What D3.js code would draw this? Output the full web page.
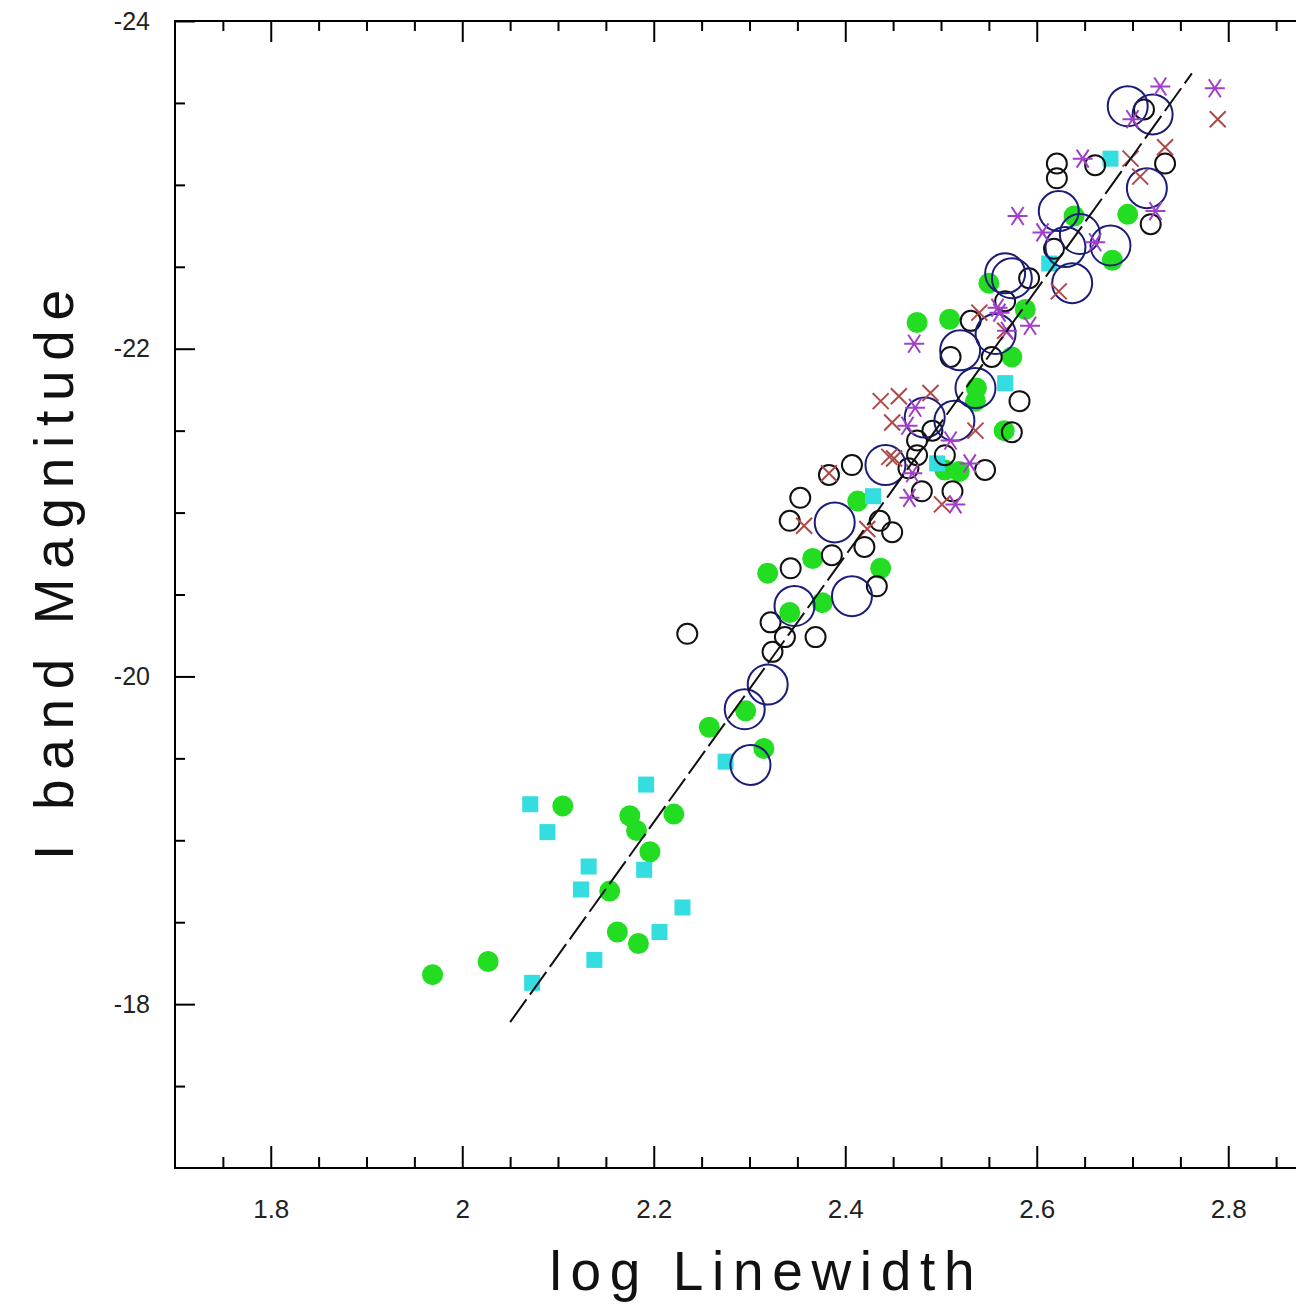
<!DOCTYPE html>
<html>
<head>
<meta charset="utf-8">
<script src="https://cdn.jsdelivr.net/npm/d3@7"></script>
<style>
  body { margin: 0; background: #fff; }
  svg { display: block; }
</style>
</head>
<body>
<div id="chart"></div>
<script>
// log linewidth vs I band magnitude, one array per symbol type
var greenDots = [
  [1.969, -18.18], [2.027, -18.26], [2.184, -18.37], [2.162, -18.44], [2.154, -18.69],
  [2.196, -18.93], [2.182, -19.06], [2.175, -19.15], [2.221, -19.16], [2.105, -19.21],
  [2.315, -19.56], [2.258, -19.69], [2.296, -19.79], [2.342, -20.39], [2.376, -20.45],
  [2.319, -20.63], [2.366, -20.72], [2.437, -20.66], [2.413, -21.07], [2.504, -21.26],
  [2.519, -21.25], [2.536, -21.68], [2.566, -21.50], [2.574, -21.95], [2.475, -22.16],
  [2.509, -22.18], [2.550, -22.40], [2.588, -22.24], [2.639, -22.81], [2.695, -22.82],
  [2.679, -22.54], [2.537, -21.76]
];
var cyanSquares = [
  [2.071, -19.22], [2.089, -19.05], [2.192, -19.34], [2.132, -18.84], [2.124, -18.70],
  [2.190, -18.82], [2.230, -18.59], [2.206, -18.44], [2.138, -18.27], [2.073, -18.13],
  [2.275, -19.48], [2.429, -21.10], [2.496, -21.30], [2.567, -21.79], [2.613, -22.52],
  [2.677, -23.16]
];
var smallCircles = [
  [2.235, -20.26], [2.369, -20.24], [2.337, -20.24], [2.324, -20.15], [2.322, -20.33],
  [2.353, -21.09], [2.342, -20.95], [2.343, -20.66], [2.386, -20.74], [2.420, -20.79],
  [2.436, -20.95], [2.449, -20.88], [2.433, -20.55], [2.383, -21.23], [2.407, -21.29],
  [2.475, -21.35], [2.510, -21.95], [2.582, -21.68], [2.574, -21.49], [2.546, -21.26],
  [2.475, -21.44], [2.531, -22.17], [2.592, -22.43], [2.504, -21.35], [2.621, -23.13],
  [2.621, -23.04], [2.661, -23.12], [2.734, -23.13], [2.719, -22.76], [2.712, -23.46],
  [2.618, -22.61], [2.567, -22.29], [2.553, -21.95], [2.491, -21.50], [2.466, -21.27],
  [2.480, -21.13], [2.512, -21.13]
];
var bigCircles = [
  [2.407, -20.49], [2.347, -20.43], [2.319, -19.95], [2.295, -19.80], [2.301, -19.46],
  [2.389, -20.94], [2.442, -21.29], [2.483, -21.58], [2.536, -21.76], [2.567, -22.46],
  [2.520, -21.99], [2.557, -22.09], [2.514, -21.56], [2.695, -23.48], [2.721, -23.43],
  [2.623, -22.84], [2.645, -22.70], [2.677, -22.63], [2.637, -22.40], [2.715, -22.98],
  [2.574, -22.43], [2.630, -22.62]
];
var crosses = [
  [2.357, -20.92], [2.423, -20.90], [2.383, -21.24], [2.446, -21.34], [2.437, -21.68],
  [2.456, -21.71], [2.489, -21.73], [2.449, -21.55], [2.540, -22.22], [2.451, -21.33],
  [2.501, -21.05], [2.536, -21.50], [2.789, -23.40], [2.734, -23.23], [2.698, -23.16],
  [2.623, -22.35], [2.708, -23.05], [2.567, -22.11]
];
var asterisks = [
  [2.470, -21.24], [2.467, -21.09], [2.472, -22.03], [2.473, -21.64], [2.465, -21.53],
  [2.561, -22.22], [2.593, -22.14], [2.530, -21.30], [2.515, -21.05], [2.510, -21.44],
  [2.569, -22.11], [2.729, -23.60], [2.786, -23.59], [2.700, -23.40], [2.648, -23.16],
  [2.580, -22.81], [2.606, -22.71], [2.724, -22.84], [2.661, -22.65], [2.559, -22.25]
];
// fitted relation, end points
var fitLine = [[2.05, -17.89], [2.762, -23.68]];

var xMajor = [1.8, 2.0, 2.2, 2.4, 2.6, 2.8];
var yMajor = [-24, -22, -20, -18];

var width = 1296, height = 1306;
var padL = 175, padT = 21, padR = 1324, padB = 1168;

var svg = d3.select("#chart").append("svg")
  .attr("width", width)
  .attr("height", height)
  .style("font-family", "'Liberation Sans', Arial, sans-serif");

var x = d3.scaleLinear().domain([1.7, 2.9]).range([padL, padR]);
var y = d3.scaleLinear().domain([-24, -17]).range([padT, padB]);

var xMinor = d3.range(1.75, 2.9, 0.05).filter(function(v) {
  return xMajor.every(function(m) { return Math.abs(m - v) > 1e-6; });
});
var yMinor = d3.range(-23.5, -17, 0.5).filter(function(v) { return v % 2 !== 0; });

function clean(g) {
  g.select(".domain").remove();
  g.selectAll(".tick line").attr("stroke", "#000").attr("stroke-width", 2);
}

// bottom axis
svg.append("g").attr("transform", "translate(0," + padB + ")")
  .call(d3.axisBottom(x).tickValues(xMajor).tickSize(-22).tickPadding(32)
    .tickFormat(function(d) { return d === 2 ? "2" : d3.format(".1f")(d); }))
  .call(clean)
  .selectAll("text").attr("font-size", 26).attr("fill", "#222")
    .attr("font-family", "'Liberation Sans', Arial, sans-serif");
svg.append("g").attr("transform", "translate(0," + padB + ")")
  .call(d3.axisBottom(x).tickValues(xMinor).tickSize(-11).tickFormat(""))
  .call(clean);

// top axis
svg.append("g").attr("transform", "translate(0," + padT + ")")
  .call(d3.axisTop(x).tickValues(xMajor).tickSize(-21).tickFormat(""))
  .call(clean);
svg.append("g").attr("transform", "translate(0," + padT + ")")
  .call(d3.axisTop(x).tickValues(xMinor).tickSize(-10).tickFormat(""))
  .call(clean);

// left axis
svg.append("g").attr("transform", "translate(" + padL + ",0)")
  .call(d3.axisLeft(y).tickValues(yMajor).tickSize(-20).tickPadding(25)
    .tickFormat(function(d) { return String(d); }))
  .call(clean)
  .selectAll("text").attr("font-size", 25).attr("fill", "#222")
    .attr("font-family", "'Liberation Sans', Arial, sans-serif");
svg.append("g").attr("transform", "translate(" + padL + ",0)")
  .call(d3.axisLeft(y).tickValues(yMinor).tickSize(-10).tickFormat(""))
  .call(clean);

// right axis
svg.append("g").attr("transform", "translate(" + padR + ",0)")
  .call(d3.axisRight(y).tickValues(yMajor).tickSize(-20).tickFormat(""))
  .call(clean);

// frame
svg.append("rect")
  .attr("x", padL).attr("y", padT)
  .attr("width", padR - padL).attr("height", padB - padT)
  .attr("fill", "none").attr("stroke", "#000").attr("stroke-width", 2);

// axis titles
svg.append("text")
  .attr("x", 762).attr("y", 1290)
  .attr("text-anchor", "middle")
  .attr("font-size", 55)
  .attr("textLength", 425).attr("lengthAdjust", "spacing")
  .attr("fill", "#111")
  .text("log Linewidth");

svg.append("text")
  .attr("transform", "translate(73,575) rotate(-90)")
  .attr("text-anchor", "middle")
  .attr("font-size", 55)
  .attr("textLength", 570).attr("lengthAdjust", "spacing")
  .attr("fill", "#111")
  .text("I band Magnitude");

// points
var plot = svg.append("g");

plot.selectAll(".gdot").data(greenDots).enter().append("circle")
  .attr("cx", function(d) { return x(d[0]); })
  .attr("cy", function(d) { return y(d[1]); })
  .attr("r", 10.5)
  .attr("fill", "#22dd22");

plot.selectAll(".csq").data(cyanSquares).enter().append("rect")
  .attr("x", function(d) { return x(d[0]) - 8; })
  .attr("y", function(d) { return y(d[1]) - 8; })
  .attr("width", 16).attr("height", 16)
  .attr("fill", "#33dde0");

plot.selectAll(".scirc").data(smallCircles).enter().append("circle")
  .attr("cx", function(d) { return x(d[0]); })
  .attr("cy", function(d) { return y(d[1]); })
  .attr("r", 10)
  .attr("fill", "none").attr("stroke", "#111").attr("stroke-width", 2);

plot.selectAll(".bcirc").data(bigCircles).enter().append("circle")
  .attr("cx", function(d) { return x(d[0]); })
  .attr("cy", function(d) { return y(d[1]); })
  .attr("r", 20)
  .attr("fill", "none").attr("stroke", "#1c1c7a").attr("stroke-width", 2);

var crossPath = "M-8,-8L8,8M-8,8L8,-8";
plot.selectAll(".cross").data(crosses).enter().append("path")
  .attr("transform", function(d) { return "translate(" + x(d[0]) + "," + y(d[1]) + ")"; })
  .attr("d", crossPath)
  .attr("fill", "none").attr("stroke", "#b04848").attr("stroke-width", 2);

var starPath = "M-10,0L10,0M-6,-9L6,9M-6,9L6,-9";
plot.selectAll(".star").data(asterisks).enter().append("path")
  .attr("transform", function(d) { return "translate(" + x(d[0]) + "," + y(d[1]) + ")"; })
  .attr("d", starPath)
  .attr("fill", "none").attr("stroke", "#a040c8").attr("stroke-width", 2);

// fit line
plot.append("path")
  .datum(fitLine)
  .attr("d", d3.line().x(function(d) { return x(d[0]); }).y(function(d) { return y(d[1]); }))
  .attr("fill", "none").attr("stroke", "#111").attr("stroke-width", 2)
  .attr("stroke-dasharray", "28,6");
</script>
</body>
</html>
